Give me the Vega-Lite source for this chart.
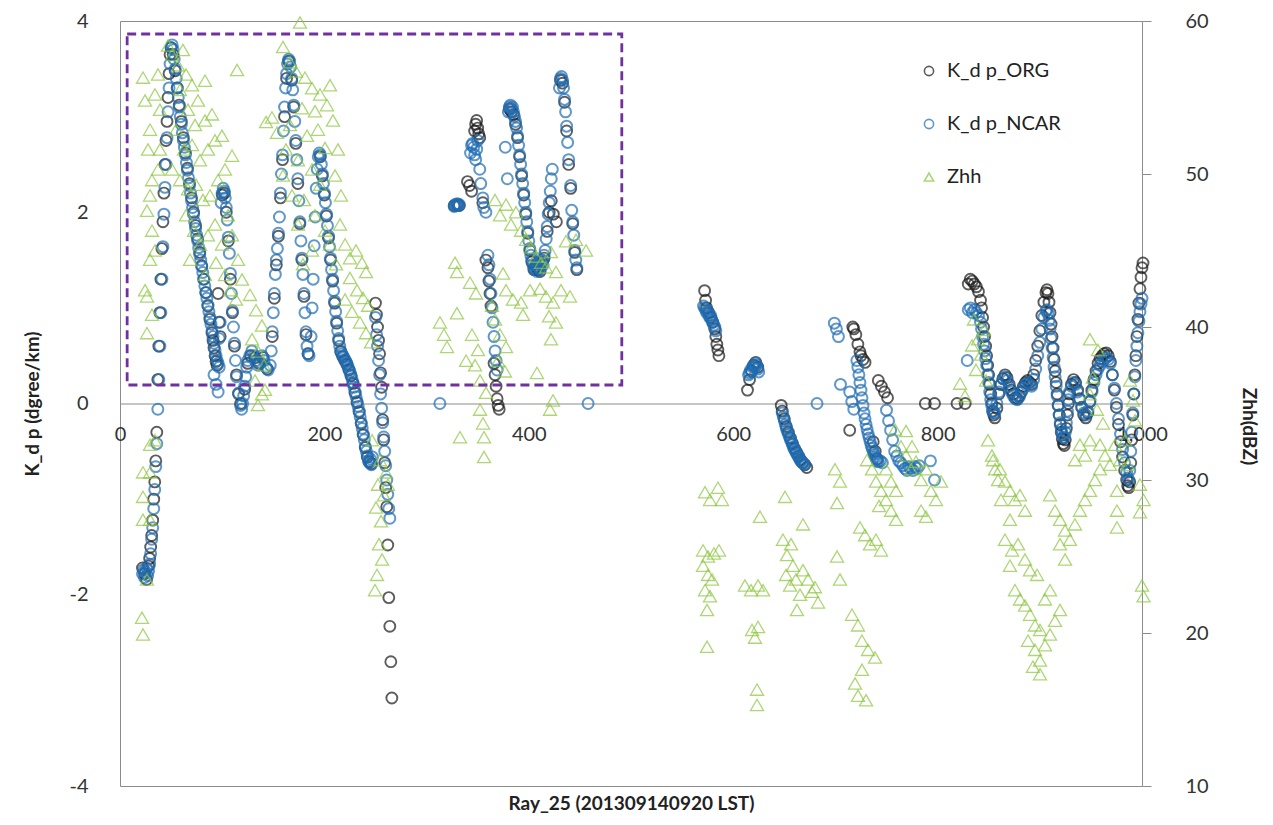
{
  "$schema": "https://vega.github.io/schema/vega-lite/v6.json",
  "width": 1022,
  "height": 765,
  "autosize": "none",
  "padding": {"left": 120, "top": 21, "right": 131, "bottom": 39},
  "background": "white",
  "config": {
    "font": "Lato",
    "view": {"stroke": "#8c8c8c", "strokeWidth": 1}
  },
  "datasets": {
    "org": [
      {"s":"o","x":22,"k":-1.72},{"s":"o","x":24,"k":-1.78},{"s":"o","x":26,"k":-1.84},{"s":"o","x":28,"k":-1.7},{"s":"o","x":29,"k":-1.62},{"s":"o","x":30,"k":-1.5},{"s":"o","x":31,"k":-1.38},{"s":"o","x":32,"k":-1.22},{"s":"o","x":33,"k":-1.0},{"s":"o","x":34,"k":-0.82},{"s":"o","x":35,"k":-0.6},{"s":"o","x":36,"k":-0.3},{"s":"o","x":37,"k":0.25},{"s":"o","x":38,"k":0.6},{"s":"o","x":39,"k":0.95},{"s":"o","x":40,"k":1.3},{"s":"o","x":41,"k":1.62},{"s":"o","x":42,"k":1.9},{"s":"o","x":43,"k":2.2},{"s":"o","x":44,"k":2.5},{"s":"o","x":45,"k":2.75},{"s":"o","x":46,"k":2.95},{"s":"o","x":47,"k":3.2},{"s":"o","x":48,"k":3.45},{"s":"o","x":49,"k":3.65},{"s":"o","x":50,"k":3.72},
      {"s":"o","x":52,"k":3.65},{"s":"o","x":54,"k":3.48},{"s":"o","x":56,"k":3.3},{"s":"o","x":58,"k":3.12},{"s":"o","x":60,"k":2.95},{"s":"o","x":62,"k":2.78},{"s":"o","x":64,"k":2.62},{"s":"o","x":66,"k":2.46},{"s":"o","x":68,"k":2.3},{"s":"o","x":70,"k":2.15},{"s":"o","x":72,"k":2.0},{"s":"o","x":74,"k":1.86},{"s":"o","x":76,"k":1.72},{"s":"o","x":78,"k":1.58},{"s":"o","x":80,"k":1.44},{"s":"o","x":82,"k":1.3},{"s":"o","x":84,"k":1.16},{"s":"o","x":86,"k":1.02},{"s":"o","x":88,"k":0.88},{"s":"o","x":90,"k":0.74},{"s":"o","x":91,"k":0.66},{"s":"o","x":92,"k":0.58},{"s":"o","x":93,"k":0.5},{"s":"o","x":94,"k":0.44},{"s":"o","x":95,"k":0.4},{"s":"o","x":96,"k":1.15},{"s":"o","x":97,"k":0.85},{"s":"o","x":98,"k":0.7},
      {"s":"o","x":100,"k":2.18},{"s":"o","x":102,"k":2.2},{"s":"o","x":104,"k":2.0},{"s":"o","x":106,"k":1.7},{"s":"o","x":108,"k":1.3},{"s":"o","x":110,"k":0.95},{"s":"o","x":112,"k":0.6},{"s":"o","x":114,"k":0.3},{"s":"o","x":116,"k":0.1},{"s":"o","x":118,"k":0.0},
      {"s":"o","x":122,"k":0.15},{"s":"o","x":125,"k":0.42},{"s":"o","x":128,"k":0.5},{"s":"o","x":132,"k":0.48},{"s":"o","x":136,"k":0.42},{"s":"o","x":140,"k":0.48},{"s":"o","x":144,"k":0.36},
      {"s":"o","x":149,"k":0.7},{"s":"o","x":151,"k":1.1},{"s":"o","x":153,"k":1.45},{"s":"o","x":155,"k":1.75},{"s":"o","x":157,"k":2.15},{"s":"o","x":159,"k":2.55},{"s":"o","x":161,"k":3.0},{"s":"o","x":163,"k":3.4},{"s":"o","x":165,"k":3.58},
      {"s":"o","x":168,"k":3.38},{"s":"o","x":170,"k":3.1},{"s":"o","x":172,"k":2.72},{"s":"o","x":174,"k":2.3},{"s":"o","x":176,"k":1.88},{"s":"o","x":178,"k":1.5},{"s":"o","x":180,"k":1.12},{"s":"o","x":182,"k":0.72},{"s":"o","x":184,"k":0.52},
      {"s":"o","x":196,"k":2.58},{"s":"o","x":198,"k":2.38},{"s":"o","x":200,"k":2.18},{"s":"o","x":202,"k":1.96},{"s":"o","x":204,"k":1.73},{"s":"o","x":206,"k":1.5},{"s":"o","x":208,"k":1.28},{"s":"o","x":210,"k":1.05},{"s":"o","x":212,"k":0.84},{"s":"o","x":214,"k":0.66},{"s":"o","x":216,"k":0.54},{"s":"o","x":218,"k":0.49},{"s":"o","x":220,"k":0.45},{"s":"o","x":222,"k":0.41},{"s":"o","x":224,"k":0.35},{"s":"o","x":226,"k":0.29},{"s":"o","x":228,"k":0.21},{"s":"o","x":230,"k":0.11},{"s":"o","x":232,"k":0.01},{"s":"o","x":234,"k":-0.09},{"s":"o","x":236,"k":-0.21},{"s":"o","x":238,"k":-0.33},{"s":"o","x":240,"k":-0.46},{"s":"o","x":242,"k":-0.56},{"s":"o","x":244,"k":-0.61},{"s":"o","x":246,"k":-0.63},
      {"s":"o","x":250,"k":1.05},{"s":"o","x":251,"k":0.93},{"s":"o","x":252,"k":0.8},{"s":"o","x":253,"k":0.66},{"s":"o","x":254,"k":0.52},{"s":"o","x":255,"k":0.32},{"s":"o","x":256,"k":0.17},{"s":"o","x":257,"k":-0.17},{"s":"o","x":258,"k":-0.38},{"s":"o","x":259,"k":-0.62},{"s":"o","x":260,"k":-0.88},{"s":"o","x":261,"k":-1.08},{"s":"o","x":262,"k":-1.48},{"s":"o","x":263,"k":-2.03},{"s":"o","x":264,"k":-2.33},{"s":"o","x":265,"k":-2.7},{"s":"o","x":266,"k":-3.08},
      {"s":"o","x":327,"k":2.07},{"s":"o","x":330,"k":2.08},{"s":"o","x":332,"k":2.07},
      {"s":"o","x":340,"k":2.32},{"s":"o","x":342,"k":2.28},{"s":"o","x":344,"k":2.22},{"s":"o","x":347,"k":2.85},{"s":"o","x":348,"k":2.92},{"s":"o","x":349,"k":2.96},{"s":"o","x":350,"k":2.88},{"s":"o","x":351,"k":2.82},{"s":"o","x":352,"k":2.78},{"s":"o","x":355,"k":2.1},{"s":"o","x":358,"k":1.5},{"s":"o","x":360,"k":1.42},{"s":"o","x":361,"k":1.28},{"s":"o","x":362,"k":1.15},{"s":"o","x":363,"k":1.02},{"s":"o","x":366,"k":0.42},{"s":"o","x":367,"k":0.3},{"s":"o","x":368,"k":0.18},{"s":"o","x":369,"k":0.05},{"s":"o","x":370,"k":-0.02},{"s":"o","x":371,"k":-0.06},
      {"s":"o","x":381,"k":3.08},{"s":"o","x":383,"k":3.05},{"s":"o","x":385,"k":3.02},{"s":"o","x":387,"k":2.92},{"s":"o","x":389,"k":2.78},{"s":"o","x":391,"k":2.58},{"s":"o","x":393,"k":2.38},{"s":"o","x":395,"k":2.18},{"s":"o","x":397,"k":1.98},{"s":"o","x":399,"k":1.78},{"s":"o","x":401,"k":1.6},{"s":"o","x":403,"k":1.48},{"s":"o","x":405,"k":1.4},{"s":"o","x":407,"k":1.43},{"s":"o","x":409,"k":1.4},{"s":"o","x":411,"k":1.38},{"s":"o","x":413,"k":1.48},{"s":"o","x":415,"k":1.52},{"s":"o","x":418,"k":1.8},{"s":"o","x":420,"k":2.0},{"s":"o","x":422,"k":2.12},{"s":"o","x":424,"k":1.98},{"s":"o","x":427,"k":1.9},{"s":"o","x":431,"k":3.38},{"s":"o","x":433,"k":3.35},{"s":"o","x":435,"k":3.15},{"s":"o","x":437,"k":2.85},{"s":"o","x":439,"k":2.5},{"s":"o","x":441,"k":2.25},{"s":"o","x":443,"k":1.88},{"s":"o","x":445,"k":1.58},{"s":"o","x":447,"k":1.4},
      {"s":"o","x":572,"k":1.18},{"s":"o","x":573,"k":1.08},{"s":"o","x":574,"k":1.0},{"s":"o","x":576,"k":0.95},{"s":"o","x":578,"k":0.9},{"s":"o","x":580,"k":0.85},{"s":"o","x":582,"k":0.78},{"s":"o","x":583,"k":0.7},{"s":"o","x":584,"k":0.62},{"s":"o","x":585,"k":0.56},{"s":"o","x":586,"k":0.5},
      {"s":"o","x":614,"k":0.14},{"s":"o","x":616,"k":0.25},{"s":"o","x":618,"k":0.34},{"s":"o","x":620,"k":0.4},{"s":"o","x":622,"k":0.43},{"s":"o","x":624,"k":0.38},
      {"s":"o","x":647,"k":-0.02},{"s":"o","x":648,"k":-0.08},{"s":"o","x":650,"k":-0.16},{"s":"o","x":652,"k":-0.24},{"s":"o","x":654,"k":-0.3},{"s":"o","x":656,"k":-0.36},{"s":"o","x":658,"k":-0.42},{"s":"o","x":660,"k":-0.47},{"s":"o","x":662,"k":-0.51},{"s":"o","x":664,"k":-0.55},{"s":"o","x":666,"k":-0.59},{"s":"o","x":668,"k":-0.62},{"s":"o","x":670,"k":-0.64},{"s":"o","x":672,"k":-0.67},
      {"s":"o","x":714,"k":-0.28},{"s":"o","x":717,"k":0.8},{"s":"o","x":718,"k":0.78},{"s":"o","x":720,"k":0.72},{"s":"o","x":722,"k":0.62},{"s":"o","x":724,"k":0.54},{"s":"o","x":725,"k":0.5},{"s":"o","x":727,"k":0.46},{"s":"o","x":729,"k":0.43},{"s":"o","x":737,"k":-0.4},{"s":"o","x":739,"k":-0.5},{"s":"o","x":741,"k":-0.58},{"s":"o","x":742,"k":0.24},{"s":"o","x":745,"k":0.18},{"s":"o","x":748,"k":0.12},{"s":"o","x":751,"k":0.06},{"s":"o","x":788,"k":0.0},{"s":"o","x":797,"k":0.0},{"s":"o","x":819,"k":0.0},{"s":"o","x":827,"k":0.0},
      {"s":"o","x":830,"k":1.25},{"s":"o","x":832,"k":1.3},{"s":"o","x":834,"k":1.28},{"s":"o","x":836,"k":1.25},{"s":"o","x":838,"k":1.22},{"s":"o","x":840,"k":1.17},{"s":"o","x":842,"k":1.08},{"s":"o","x":843,"k":1.0},{"s":"o","x":844,"k":0.9},{"s":"o","x":845,"k":0.8},{"s":"o","x":846,"k":0.7},{"s":"o","x":847,"k":0.6},{"s":"o","x":848,"k":0.5},{"s":"o","x":849,"k":0.4},{"s":"o","x":850,"k":0.3},{"s":"o","x":851,"k":0.2},{"s":"o","x":852,"k":0.1},{"s":"o","x":853,"k":0.0},{"s":"o","x":854,"k":-0.08},{"s":"o","x":855,"k":-0.12},{"s":"o","x":856,"k":-0.15},{"s":"o","x":858,"k":-0.05},{"s":"o","x":860,"k":0.1},{"s":"o","x":862,"k":0.2},{"s":"o","x":864,"k":0.26},{"s":"o","x":866,"k":0.3},{"s":"o","x":868,"k":0.27},{"s":"o","x":870,"k":0.2},{"s":"o","x":872,"k":0.14},{"s":"o","x":874,"k":0.1},{"s":"o","x":876,"k":0.06},{"s":"o","x":878,"k":0.05},{"s":"o","x":880,"k":0.08},{"s":"o","x":882,"k":0.12},{"s":"o","x":884,"k":0.18},{"s":"o","x":886,"k":0.22},{"s":"o","x":888,"k":0.24},{"s":"o","x":890,"k":0.22},{"s":"o","x":892,"k":0.2},{"s":"o","x":894,"k":0.3},{"s":"o","x":896,"k":0.45},{"s":"o","x":898,"k":0.6},{"s":"o","x":900,"k":0.76},{"s":"o","x":902,"k":0.92},{"s":"o","x":904,"k":1.06},{"s":"o","x":906,"k":1.16},{"s":"o","x":907,"k":1.19},{"s":"o","x":908,"k":1.15},{"s":"o","x":909,"k":1.06},{"s":"o","x":910,"k":0.95},{"s":"o","x":911,"k":0.83},{"s":"o","x":912,"k":0.7},{"s":"o","x":913,"k":0.58},{"s":"o","x":914,"k":0.46},{"s":"o","x":915,"k":0.34},{"s":"o","x":916,"k":0.22},{"s":"o","x":917,"k":0.1},{"s":"o","x":918,"k":-0.02},{"s":"o","x":919,"k":-0.12},{"s":"o","x":920,"k":-0.22},{"s":"o","x":921,"k":-0.3},{"s":"o","x":922,"k":-0.37},{"s":"o","x":923,"k":-0.42},{"s":"o","x":924,"k":-0.44},{"s":"o","x":925,"k":-0.38},{"s":"o","x":926,"k":-0.26},{"s":"o","x":927,"k":-0.12},{"s":"o","x":928,"k":0.0},{"s":"o","x":929,"k":0.1},{"s":"o","x":931,"k":0.2},{"s":"o","x":933,"k":0.25},{"s":"o","x":935,"k":0.22},{"s":"o","x":937,"k":0.14},{"s":"o","x":939,"k":0.05},{"s":"o","x":941,"k":-0.04},{"s":"o","x":943,"k":-0.12},{"s":"o","x":945,"k":-0.15},{"s":"o","x":947,"k":-0.1},{"s":"o","x":949,"k":0.02},{"s":"o","x":951,"k":0.14},{"s":"o","x":953,"k":0.25},{"s":"o","x":955,"k":0.34},{"s":"o","x":957,"k":0.42},{"s":"o","x":959,"k":0.47},{"s":"o","x":961,"k":0.5},{"s":"o","x":963,"k":0.52},{"s":"o","x":965,"k":0.53},{"s":"o","x":967,"k":0.5},{"s":"o","x":969,"k":0.44},{"s":"o","x":971,"k":0.3},{"s":"o","x":973,"k":0.14},{"s":"o","x":975,"k":-0.04},{"s":"o","x":977,"k":-0.22},{"s":"o","x":979,"k":-0.4},{"s":"o","x":981,"k":-0.56},{"s":"o","x":983,"k":-0.7},{"s":"o","x":985,"k":-0.8},{"s":"o","x":986,"k":-0.86},{"s":"o","x":987,"k":-0.88},{"s":"o","x":988,"k":-0.82},{"s":"o","x":989,"k":-0.62},{"s":"o","x":990,"k":-0.38},{"s":"o","x":991,"k":-0.12},{"s":"o","x":992,"k":0.1},{"s":"o","x":993,"k":0.3},{"s":"o","x":994,"k":0.5},{"s":"o","x":995,"k":0.7},{"s":"o","x":996,"k":0.88},{"s":"o","x":997,"k":1.05},{"s":"o","x":998,"k":1.2},{"s":"o","x":999,"k":1.32},{"s":"o","x":1000,"k":1.42},{"s":"o","x":1001,"k":1.47}
    ],
    "ncar": [
      {"s":"n","x":22,"k":-1.78},{"s":"n","x":23,"k":-1.74},{"s":"n","x":24,"k":-1.82},{"s":"n","x":25,"k":-1.76},{"s":"n","x":26,"k":-1.72},{"s":"n","x":27,"k":-1.8},{"s":"n","x":28,"k":-1.75},{"s":"n","x":29,"k":-1.68},{"s":"n","x":30,"k":-1.57},{"s":"n","x":31,"k":-1.42},{"s":"n","x":32,"k":-1.3},{"s":"n","x":33,"k":-1.1},{"s":"n","x":34,"k":-0.9},{"s":"n","x":35,"k":-0.66},{"s":"n","x":36,"k":-0.42},{"s":"n","x":37,"k":-0.06},{"s":"n","x":38,"k":0.25},{"s":"n","x":39,"k":0.6},{"s":"n","x":40,"k":0.95},{"s":"n","x":41,"k":1.3},{"s":"n","x":42,"k":1.64},{"s":"n","x":43,"k":1.98},{"s":"n","x":44,"k":2.26},{"s":"n","x":45,"k":2.5},{"s":"n","x":46,"k":2.78},{"s":"n","x":47,"k":3.05},{"s":"n","x":48,"k":3.3},{"s":"n","x":49,"k":3.55},{"s":"n","x":50,"k":3.72},{"s":"n","x":51,"k":3.75},{"s":"n","x":52,"k":3.7},
      {"s":"n","x":53,"k":3.6},{"s":"n","x":54,"k":3.5},{"s":"n","x":55,"k":3.4},{"s":"n","x":56,"k":3.3},{"s":"n","x":57,"k":3.2},{"s":"n","x":58,"k":3.1},{"s":"n","x":59,"k":3.0},{"s":"n","x":60,"k":2.92},{"s":"n","x":61,"k":2.83},{"s":"n","x":62,"k":2.75},{"s":"n","x":63,"k":2.68},{"s":"n","x":64,"k":2.6},{"s":"n","x":65,"k":2.52},{"s":"n","x":66,"k":2.44},{"s":"n","x":67,"k":2.36},{"s":"n","x":68,"k":2.28},{"s":"n","x":69,"k":2.2},{"s":"n","x":70,"k":2.12},{"s":"n","x":71,"k":2.05},{"s":"n","x":72,"k":1.98},{"s":"n","x":73,"k":1.9},{"s":"n","x":74,"k":1.83},{"s":"n","x":75,"k":1.76},{"s":"n","x":76,"k":1.7},{"s":"n","x":77,"k":1.63},{"s":"n","x":78,"k":1.56},{"s":"n","x":79,"k":1.5},{"s":"n","x":80,"k":1.43},{"s":"n","x":81,"k":1.37},{"s":"n","x":82,"k":1.3},{"s":"n","x":83,"k":1.23},{"s":"n","x":84,"k":1.16},{"s":"n","x":85,"k":1.1},{"s":"n","x":86,"k":1.03},{"s":"n","x":87,"k":0.96},{"s":"n","x":88,"k":0.9},{"s":"n","x":89,"k":0.83},{"s":"n","x":90,"k":0.76},{"s":"n","x":91,"k":0.7},{"s":"n","x":92,"k":0.63},{"s":"n","x":93,"k":0.56},{"s":"n","x":94,"k":0.5},{"s":"n","x":95,"k":0.45},{"s":"n","x":96,"k":0.42},{"s":"n","x":97,"k":0.38},
      {"s":"n","x":92,"k":0.3},{"s":"n","x":94,"k":0.2},{"s":"n","x":96,"k":0.12},{"s":"n","x":97,"k":0.68},{"s":"n","x":98,"k":0.85},
      {"s":"n","x":99,"k":2.1},{"s":"n","x":100,"k":2.2},{"s":"n","x":101,"k":2.25},{"s":"n","x":102,"k":2.22},{"s":"n","x":103,"k":2.15},{"s":"n","x":104,"k":2.05},{"s":"n","x":105,"k":1.92},{"s":"n","x":106,"k":1.74},{"s":"n","x":107,"k":1.57},{"s":"n","x":108,"k":1.36},{"s":"n","x":109,"k":1.15},{"s":"n","x":110,"k":0.97},{"s":"n","x":111,"k":0.8},{"s":"n","x":112,"k":0.63},{"s":"n","x":113,"k":0.45},{"s":"n","x":114,"k":0.28},{"s":"n","x":116,"k":0.11},{"s":"n","x":118,"k":-0.02},{"s":"n","x":119,"k":-0.06},{"s":"n","x":120,"k":0.0},
      {"s":"n","x":121,"k":0.08},{"s":"n","x":122,"k":0.18},{"s":"n","x":123,"k":0.28},{"s":"n","x":124,"k":0.38},{"s":"n","x":125,"k":0.45},{"s":"n","x":127,"k":0.5},{"s":"n","x":129,"k":0.55},{"s":"n","x":131,"k":0.5},{"s":"n","x":133,"k":0.45},{"s":"n","x":135,"k":0.4},{"s":"n","x":137,"k":0.43},{"s":"n","x":139,"k":0.5},{"s":"n","x":141,"k":0.45},{"s":"n","x":143,"k":0.38},{"s":"n","x":145,"k":0.35},{"s":"n","x":147,"k":0.4},
      {"s":"n","x":148,"k":0.55},{"s":"n","x":149,"k":0.75},{"s":"n","x":150,"k":0.95},{"s":"n","x":151,"k":1.15},{"s":"n","x":152,"k":1.35},{"s":"n","x":153,"k":1.5},{"s":"n","x":154,"k":1.62},{"s":"n","x":155,"k":1.78},{"s":"n","x":156,"k":1.95},{"s":"n","x":157,"k":2.2},{"s":"n","x":158,"k":2.4},{"s":"n","x":159,"k":2.6},{"s":"n","x":160,"k":2.85},{"s":"n","x":161,"k":3.1},{"s":"n","x":162,"k":3.3},{"s":"n","x":163,"k":3.45},{"s":"n","x":164,"k":3.55},{"s":"n","x":165,"k":3.6},{"s":"n","x":166,"k":3.58},{"s":"n","x":167,"k":3.52},
      {"s":"n","x":168,"k":3.4},{"s":"n","x":169,"k":3.28},{"s":"n","x":170,"k":3.12},{"s":"n","x":171,"k":2.95},{"s":"n","x":172,"k":2.75},{"s":"n","x":173,"k":2.55},{"s":"n","x":174,"k":2.35},{"s":"n","x":175,"k":2.12},{"s":"n","x":176,"k":1.9},{"s":"n","x":177,"k":1.7},{"s":"n","x":178,"k":1.52},{"s":"n","x":179,"k":1.35},{"s":"n","x":180,"k":1.15},{"s":"n","x":181,"k":0.95},{"s":"n","x":182,"k":0.75},{"s":"n","x":183,"k":0.6},{"s":"n","x":184,"k":0.52},{"s":"n","x":185,"k":0.5},
      {"s":"n","x":187,"k":0.7},{"s":"n","x":188,"k":1.0},{"s":"n","x":189,"k":1.3},{"s":"n","x":190,"k":1.65},{"s":"n","x":191,"k":1.95},{"s":"n","x":192,"k":2.25},{"s":"n","x":193,"k":2.45},{"s":"n","x":194,"k":2.58},{"s":"n","x":195,"k":2.62},
      {"s":"n","x":196,"k":2.6},{"s":"n","x":197,"k":2.5},{"s":"n","x":198,"k":2.4},{"s":"n","x":199,"k":2.3},{"s":"n","x":200,"k":2.2},{"s":"n","x":201,"k":2.1},{"s":"n","x":202,"k":1.98},{"s":"n","x":203,"k":1.86},{"s":"n","x":204,"k":1.75},{"s":"n","x":205,"k":1.64},{"s":"n","x":206,"k":1.52},{"s":"n","x":207,"k":1.4},{"s":"n","x":208,"k":1.3},{"s":"n","x":209,"k":1.18},{"s":"n","x":210,"k":1.07},{"s":"n","x":211,"k":0.96},{"s":"n","x":212,"k":0.86},{"s":"n","x":213,"k":0.76},{"s":"n","x":214,"k":0.68},{"s":"n","x":215,"k":0.6},{"s":"n","x":216,"k":0.55},{"s":"n","x":217,"k":0.52},{"s":"n","x":218,"k":0.5},{"s":"n","x":219,"k":0.48},{"s":"n","x":220,"k":0.46},{"s":"n","x":221,"k":0.44},{"s":"n","x":222,"k":0.42},{"s":"n","x":223,"k":0.39},{"s":"n","x":224,"k":0.36},{"s":"n","x":225,"k":0.33},{"s":"n","x":226,"k":0.3},{"s":"n","x":227,"k":0.26},{"s":"n","x":228,"k":0.22},{"s":"n","x":229,"k":0.17},{"s":"n","x":230,"k":0.12},{"s":"n","x":231,"k":0.07},{"s":"n","x":232,"k":0.02},{"s":"n","x":233,"k":-0.03},{"s":"n","x":234,"k":-0.08},{"s":"n","x":235,"k":-0.14},{"s":"n","x":236,"k":-0.2},{"s":"n","x":237,"k":-0.26},{"s":"n","x":238,"k":-0.32},{"s":"n","x":239,"k":-0.38},{"s":"n","x":240,"k":-0.45},{"s":"n","x":241,"k":-0.5},{"s":"n","x":242,"k":-0.55},{"s":"n","x":243,"k":-0.6},{"s":"n","x":244,"k":-0.62},{"s":"n","x":245,"k":-0.58},{"s":"n","x":246,"k":-0.64},{"s":"n","x":247,"k":-0.56},
      {"s":"n","x":250,"k":0.9},{"s":"n","x":251,"k":0.72},{"s":"n","x":252,"k":0.6},{"s":"n","x":253,"k":0.45},{"s":"n","x":254,"k":0.3},{"s":"n","x":255,"k":0.1},{"s":"n","x":256,"k":-0.05},{"s":"n","x":257,"k":-0.2},{"s":"n","x":258,"k":-0.35},{"s":"n","x":259,"k":-0.5},{"s":"n","x":260,"k":-0.65},{"s":"n","x":261,"k":-0.8},{"s":"n","x":262,"k":-0.95},{"s":"n","x":263,"k":-1.1},{"s":"n","x":264,"k":-1.2},
      {"s":"n","x":313,"k":0.0},{"s":"n","x":327,"k":2.06},{"s":"n","x":328,"k":2.08},{"s":"n","x":329,"k":2.07},{"s":"n","x":330,"k":2.09},{"s":"n","x":331,"k":2.07},{"s":"n","x":332,"k":2.08},
      {"s":"n","x":343,"k":2.62},{"s":"n","x":344,"k":2.7},{"s":"n","x":345,"k":2.72},{"s":"n","x":346,"k":2.68},{"s":"n","x":347,"k":2.6},{"s":"n","x":348,"k":2.55},{"s":"n","x":349,"k":2.66},{"s":"n","x":350,"k":2.75},{"s":"n","x":352,"k":2.45},{"s":"n","x":353,"k":2.3},{"s":"n","x":355,"k":2.15},{"s":"n","x":356,"k":2.05},{"s":"n","x":358,"k":2.0},{"s":"n","x":360,"k":1.55},{"s":"n","x":361,"k":1.45},{"s":"n","x":362,"k":1.3},{"s":"n","x":363,"k":1.15},{"s":"n","x":364,"k":1.0},{"s":"n","x":365,"k":0.85},{"s":"n","x":366,"k":0.7},{"s":"n","x":367,"k":0.55},{"s":"n","x":368,"k":0.45},{"s":"n","x":369,"k":0.35},
      {"s":"n","x":377,"k":2.68},{"s":"n","x":379,"k":2.35},{"s":"n","x":380,"k":3.05},{"s":"n","x":381,"k":3.1},{"s":"n","x":382,"k":3.12},{"s":"n","x":383,"k":3.08},{"s":"n","x":384,"k":3.1},{"s":"n","x":385,"k":3.05},{"s":"n","x":386,"k":3.0},{"s":"n","x":387,"k":2.95},{"s":"n","x":388,"k":2.88},{"s":"n","x":389,"k":2.8},{"s":"n","x":390,"k":2.7},{"s":"n","x":391,"k":2.6},{"s":"n","x":392,"k":2.5},{"s":"n","x":393,"k":2.4},{"s":"n","x":394,"k":2.3},{"s":"n","x":395,"k":2.2},{"s":"n","x":396,"k":2.1},{"s":"n","x":397,"k":2.0},{"s":"n","x":398,"k":1.9},{"s":"n","x":399,"k":1.8},{"s":"n","x":400,"k":1.7},{"s":"n","x":401,"k":1.62},{"s":"n","x":402,"k":1.55},{"s":"n","x":403,"k":1.5},{"s":"n","x":404,"k":1.45},{"s":"n","x":405,"k":1.42},{"s":"n","x":406,"k":1.4},{"s":"n","x":407,"k":1.45},{"s":"n","x":408,"k":1.38},{"s":"n","x":409,"k":1.42},{"s":"n","x":410,"k":1.48},{"s":"n","x":411,"k":1.4},{"s":"n","x":412,"k":1.45},{"s":"n","x":413,"k":1.5},{"s":"n","x":414,"k":1.45},{"s":"n","x":415,"k":1.55},{"s":"n","x":416,"k":1.6},{"s":"n","x":417,"k":1.72},{"s":"n","x":418,"k":1.85},{"s":"n","x":419,"k":1.98},{"s":"n","x":420,"k":2.1},{"s":"n","x":421,"k":2.22},{"s":"n","x":422,"k":2.35},{"s":"n","x":423,"k":2.45},{"s":"n","x":430,"k":3.3},{"s":"n","x":431,"k":3.4},{"s":"n","x":432,"k":3.42},{"s":"n","x":433,"k":3.38},{"s":"n","x":434,"k":3.3},{"s":"n","x":435,"k":3.18},{"s":"n","x":436,"k":3.05},{"s":"n","x":437,"k":2.9},{"s":"n","x":438,"k":2.73},{"s":"n","x":439,"k":2.55},{"s":"n","x":441,"k":2.28},{"s":"n","x":442,"k":2.02},{"s":"n","x":443,"k":1.9},{"s":"n","x":444,"k":1.76},{"s":"n","x":445,"k":1.6},{"s":"n","x":446,"k":1.5},{"s":"n","x":447,"k":1.42},{"s":"n","x":458,"k":0.0},
      {"s":"n","x":571,"k":1.02},{"s":"n","x":572,"k":1.0},{"s":"n","x":573,"k":0.98},{"s":"n","x":574,"k":0.95},{"s":"n","x":575,"k":0.97},{"s":"n","x":576,"k":0.93},{"s":"n","x":577,"k":0.9},{"s":"n","x":578,"k":0.92},{"s":"n","x":579,"k":0.88},{"s":"n","x":580,"k":0.85},{"s":"n","x":581,"k":0.82},{"s":"n","x":582,"k":0.8},{"s":"n","x":583,"k":0.76},
      {"s":"n","x":615,"k":0.3},{"s":"n","x":616,"k":0.32},{"s":"n","x":617,"k":0.35},{"s":"n","x":618,"k":0.33},{"s":"n","x":619,"k":0.38},{"s":"n","x":620,"k":0.4},{"s":"n","x":621,"k":0.38},{"s":"n","x":622,"k":0.42},{"s":"n","x":623,"k":0.4},{"s":"n","x":624,"k":0.36},{"s":"n","x":625,"k":0.33},
      {"s":"n","x":648,"k":-0.1},{"s":"n","x":649,"k":-0.14},{"s":"n","x":650,"k":-0.18},{"s":"n","x":651,"k":-0.22},{"s":"n","x":652,"k":-0.26},{"s":"n","x":653,"k":-0.29},{"s":"n","x":654,"k":-0.32},{"s":"n","x":655,"k":-0.35},{"s":"n","x":656,"k":-0.38},{"s":"n","x":657,"k":-0.4},{"s":"n","x":658,"k":-0.43},{"s":"n","x":659,"k":-0.46},{"s":"n","x":660,"k":-0.48},{"s":"n","x":661,"k":-0.5},{"s":"n","x":662,"k":-0.52},{"s":"n","x":663,"k":-0.54},{"s":"n","x":664,"k":-0.56},{"s":"n","x":665,"k":-0.58},{"s":"n","x":666,"k":-0.6},{"s":"n","x":667,"k":-0.61},{"s":"n","x":668,"k":-0.62},{"s":"n","x":669,"k":-0.63},{"s":"n","x":670,"k":-0.64},{"s":"n","x":682,"k":0.0},
      {"s":"n","x":699,"k":0.84},{"s":"n","x":701,"k":0.78},{"s":"n","x":703,"k":0.7},{"s":"n","x":705,"k":0.2},{"s":"n","x":714,"k":0.12},{"s":"n","x":716,"k":0.02},{"s":"n","x":718,"k":-0.06},{"s":"n","x":721,"k":0.45},{"s":"n","x":722,"k":0.38},{"s":"n","x":723,"k":0.3},{"s":"n","x":724,"k":0.22},{"s":"n","x":725,"k":0.14},{"s":"n","x":726,"k":0.06},{"s":"n","x":727,"k":-0.02},{"s":"n","x":728,"k":-0.1},{"s":"n","x":729,"k":-0.16},{"s":"n","x":730,"k":-0.22},{"s":"n","x":731,"k":-0.27},{"s":"n","x":732,"k":-0.32},{"s":"n","x":733,"k":-0.36},{"s":"n","x":734,"k":-0.4},{"s":"n","x":735,"k":-0.44},{"s":"n","x":736,"k":-0.47},{"s":"n","x":737,"k":-0.5},{"s":"n","x":738,"k":-0.53},{"s":"n","x":739,"k":-0.56},{"s":"n","x":740,"k":-0.58},{"s":"n","x":741,"k":-0.6},{"s":"n","x":742,"k":-0.61},{"s":"n","x":744,"k":-0.6},{"s":"n","x":746,"k":-0.62},{"s":"n","x":750,"k":-0.07},{"s":"n","x":752,"k":-0.18},{"s":"n","x":754,"k":-0.28},{"s":"n","x":756,"k":-0.38},{"s":"n","x":758,"k":-0.5},{"s":"n","x":760,"k":-0.55},{"s":"n","x":762,"k":-0.6},{"s":"n","x":764,"k":-0.62},{"s":"n","x":766,"k":-0.65},{"s":"n","x":768,"k":-0.68},{"s":"n","x":770,"k":-0.7},{"s":"n","x":772,"k":-0.66},{"s":"n","x":774,"k":-0.68},{"s":"n","x":776,"k":-0.7},{"s":"n","x":778,"k":-0.66},{"s":"n","x":780,"k":-0.68},{"s":"n","x":782,"k":-0.65},{"s":"n","x":793,"k":-0.6},{"s":"n","x":797,"k":-0.8},{"s":"n","x":829,"k":0.45},
      {"s":"n","x":830,"k":0.98},{"s":"n","x":832,"k":1.0},{"s":"n","x":834,"k":0.95},{"s":"n","x":836,"k":0.98},{"s":"n","x":838,"k":0.95},{"s":"n","x":840,"k":0.92},{"s":"n","x":842,"k":0.85},{"s":"n","x":843,"k":0.78},{"s":"n","x":844,"k":0.7},{"s":"n","x":845,"k":0.62},{"s":"n","x":846,"k":0.55},{"s":"n","x":847,"k":0.47},{"s":"n","x":848,"k":0.4},{"s":"n","x":849,"k":0.3},{"s":"n","x":850,"k":0.22},{"s":"n","x":851,"k":0.12},{"s":"n","x":852,"k":0.04},{"s":"n","x":853,"k":-0.02},{"s":"n","x":854,"k":-0.08},{"s":"n","x":855,"k":-0.1},{"s":"n","x":856,"k":-0.1},{"s":"n","x":858,"k":0.0},{"s":"n","x":860,"k":0.12},{"s":"n","x":862,"k":0.2},{"s":"n","x":864,"k":0.26},{"s":"n","x":866,"k":0.28},{"s":"n","x":868,"k":0.24},{"s":"n","x":870,"k":0.18},{"s":"n","x":872,"k":0.12},{"s":"n","x":874,"k":0.08},{"s":"n","x":876,"k":0.05},{"s":"n","x":878,"k":0.04},{"s":"n","x":880,"k":0.07},{"s":"n","x":882,"k":0.12},{"s":"n","x":884,"k":0.16},{"s":"n","x":886,"k":0.2},{"s":"n","x":888,"k":0.22},{"s":"n","x":890,"k":0.2},{"s":"n","x":892,"k":0.18},{"s":"n","x":894,"k":0.25},{"s":"n","x":896,"k":0.36},{"s":"n","x":898,"k":0.5},{"s":"n","x":900,"k":0.64},{"s":"n","x":902,"k":0.78},{"s":"n","x":904,"k":0.9},{"s":"n","x":906,"k":0.97},{"s":"n","x":907,"k":0.98},{"s":"n","x":908,"k":0.94},{"s":"n","x":909,"k":0.87},{"s":"n","x":910,"k":0.78},{"s":"n","x":911,"k":0.68},{"s":"n","x":912,"k":0.58},{"s":"n","x":913,"k":0.48},{"s":"n","x":914,"k":0.38},{"s":"n","x":915,"k":0.28},{"s":"n","x":916,"k":0.18},{"s":"n","x":917,"k":0.08},{"s":"n","x":918,"k":-0.02},{"s":"n","x":919,"k":-0.12},{"s":"n","x":920,"k":-0.2},{"s":"n","x":921,"k":-0.27},{"s":"n","x":922,"k":-0.32},{"s":"n","x":923,"k":-0.35},{"s":"n","x":924,"k":-0.36},{"s":"n","x":925,"k":-0.3},{"s":"n","x":926,"k":-0.2},{"s":"n","x":927,"k":-0.08},{"s":"n","x":928,"k":0.04},{"s":"n","x":929,"k":0.12},{"s":"n","x":931,"k":0.18},{"s":"n","x":933,"k":0.22},{"s":"n","x":935,"k":0.2},{"s":"n","x":937,"k":0.12},{"s":"n","x":939,"k":0.04},{"s":"n","x":941,"k":-0.04},{"s":"n","x":943,"k":-0.1},{"s":"n","x":945,"k":-0.12},{"s":"n","x":947,"k":-0.08},{"s":"n","x":949,"k":0.02},{"s":"n","x":951,"k":0.12},{"s":"n","x":953,"k":0.22},{"s":"n","x":955,"k":0.3},{"s":"n","x":957,"k":0.36},{"s":"n","x":959,"k":0.4},{"s":"n","x":961,"k":0.44},{"s":"n","x":963,"k":0.46},{"s":"n","x":965,"k":0.48},{"s":"n","x":967,"k":0.46},{"s":"n","x":969,"k":0.42},{"s":"n","x":971,"k":0.3},{"s":"n","x":973,"k":0.16},{"s":"n","x":975,"k":0.0},{"s":"n","x":977,"k":-0.16},{"s":"n","x":979,"k":-0.32},{"s":"n","x":981,"k":-0.48},{"s":"n","x":983,"k":-0.62},{"s":"n","x":985,"k":-0.72},{"s":"n","x":986,"k":-0.78},{"s":"n","x":987,"k":-0.8},{"s":"n","x":988,"k":-0.7},{"s":"n","x":989,"k":-0.5},{"s":"n","x":990,"k":-0.3},{"s":"n","x":991,"k":-0.1},{"s":"n","x":992,"k":0.1},{"s":"n","x":993,"k":0.28},{"s":"n","x":994,"k":0.45},{"s":"n","x":995,"k":0.6},{"s":"n","x":996,"k":0.74},{"s":"n","x":997,"k":0.86},{"s":"n","x":998,"k":0.96},{"s":"n","x":999,"k":1.04},{"s":"n","x":1000,"k":1.1}
    ],
    "zhh": [
      {"s":"z","x":21.5,"z":21.0},{"s":"z","x":22.5,"z":19.9},{"s":"z","x":26.4,"z":23.5},{"s":"z","x":22.5,"z":27.4},{"s":"z","x":29.4,"z":27.4},{"s":"z","x":22.5,"z":28.9},{"s":"z","x":22.5,"z":30.5},{"s":"z","x":29.4,"z":30.5},{"s":"z","x":29.4,"z":32.3},{"s":"z","x":34.2,"z":32.6},{"s":"z","x":26.4,"z":39.6},{"s":"z","x":26.4,"z":42.0},{"s":"z","x":29.4,"z":44.4},{"s":"z","x":26.4,"z":47.6},{"s":"z","x":29.4,"z":48.6},{"s":"z","x":31.3,"z":49.6},{"s":"z","x":27.4,"z":51.6},{"s":"z","x":29.4,"z":52.9},{"s":"z","x":24.5,"z":54.8},{"s":"z","x":22.5,"z":56.3},{"s":"z","x":34.2,"z":55.2},{"s":"z","x":37.2,"z":56.5},{"s":"z","x":39.1,"z":54.2},{"s":"z","x":39.1,"z":51.6},{"s":"z","x":37.2,"z":50.3},{"s":"z","x":31.3,"z":46.3},{"s":"z","x":34.2,"z":45.0},{"s":"z","x":24.5,"z":42.4},{"s":"z","x":31.3,"z":40.8},
      {"s":"z","x":47,"z":58.4},{"s":"z","x":51,"z":57.8},{"s":"z","x":56.8,"z":57.1},{"s":"z","x":61.6,"z":58.1},{"s":"z","x":64.6,"z":56.5},{"s":"z","x":58.7,"z":55.5},{"s":"z","x":70.5,"z":55.8},{"s":"z","x":76.3,"z":54.8},{"s":"z","x":83.2,"z":56.1},{"s":"z","x":66.5,"z":54.2},{"s":"z","x":73.4,"z":53.2},{"s":"z","x":83.2,"z":53.5},{"s":"z","x":90,"z":53.9},{"s":"z","x":54.8,"z":52.9},{"s":"z","x":62.6,"z":51.6},{"s":"z","x":70.5,"z":51.9},{"s":"z","x":78.3,"z":50.9},{"s":"z","x":86.1,"z":51.6},{"s":"z","x":93,"z":52.2},{"s":"z","x":99.8,"z":52.5},{"s":"z","x":51,"z":50.3},{"s":"z","x":58.7,"z":49.6},{"s":"z","x":66.5,"z":49.0},{"s":"z","x":74.4,"z":49.3},{"s":"z","x":81.2,"z":48.3},{"s":"z","x":88.1,"z":48.6},{"s":"z","x":95.9,"z":49.6},{"s":"z","x":102.7,"z":50.3},{"s":"z","x":109.6,"z":51.2},{"s":"z","x":114.5,"z":56.8},{"s":"z","x":64.6,"z":47.3},{"s":"z","x":72.4,"z":46.3},{"s":"z","x":78.3,"z":45.4},{"s":"z","x":86.1,"z":46.0},{"s":"z","x":93,"z":46.7},{"s":"z","x":99.8,"z":45.4},{"s":"z","x":105.7,"z":47.3},{"s":"z","x":109.6,"z":46.0},{"s":"z","x":115.5,"z":44.4},{"s":"z","x":93.9,"z":44.2},{"s":"z","x":102.7,"z":43.4},{"s":"z","x":107.6,"z":42.4},{"s":"z","x":113.5,"z":41.8},{"s":"z","x":119.4,"z":43.1},{"s":"z","x":83.2,"z":43.4},{"s":"z","x":68.5,"z":44.4},
      {"s":"z","x":127.2,"z":42.1},{"s":"z","x":133.1,"z":41.1},{"s":"z","x":138.9,"z":40.1},{"s":"z","x":129.2,"z":39.2},{"s":"z","x":135,"z":38.4},{"s":"z","x":140.9,"z":37.5},{"s":"z","x":132.1,"z":36.5},{"s":"z","x":141.9,"z":35.9},{"s":"z","x":135,"z":34.9},{"s":"z","x":142.9,"z":53.4},{"s":"z","x":148.7,"z":53.7},{"s":"z","x":153.6,"z":52.7},{"s":"z","x":138.9,"z":35.6},
      {"s":"z","x":159.5,"z":58.3},{"s":"z","x":176.1,"z":59.9},{"s":"z","x":166.3,"z":57.3},{"s":"z","x":172.2,"z":56.7},{"s":"z","x":181,"z":56.3},{"s":"z","x":187.9,"z":55.6},{"s":"z","x":195.7,"z":55.2},{"s":"z","x":202.5,"z":54.5},{"s":"z","x":190.8,"z":54.1},{"s":"z","x":178.1,"z":54.3},{"s":"z","x":166.3,"z":53.2},{"s":"z","x":162.4,"z":51.6},{"s":"z","x":159.5,"z":49.9},{"s":"z","x":168.3,"z":48.6},{"s":"z","x":174.2,"z":50.9},{"s":"z","x":183,"z":52.5},{"s":"z","x":193.7,"z":52.9},{"s":"z","x":200.6,"z":51.7},{"s":"z","x":187.9,"z":50.3},{"s":"z","x":195.7,"z":49.3},{"s":"z","x":180,"z":48.3},{"s":"z","x":174.2,"z":46.7},{"s":"z","x":190.8,"z":47.3},{"s":"z","x":200.6,"z":46.3},{"s":"z","x":208.4,"z":53.5},{"s":"z","x":205.5,"z":55.8},{"s":"z","x":213.3,"z":51.6},{"s":"z","x":210.4,"z":49.9},{"s":"z","x":216.2,"z":48.6},{"s":"z","x":205.5,"z":45.4},{"s":"z","x":211.4,"z":44.1},{"s":"z","x":187.9,"z":45.0},{"s":"z","x":179,"z":44.1},
      {"s":"z","x":220.2,"z":45.4},{"s":"z","x":225,"z":44.5},{"s":"z","x":230.9,"z":45.0},{"s":"z","x":236.8,"z":44.2},{"s":"z","x":240.7,"z":43.6},{"s":"z","x":225,"z":43.2},{"s":"z","x":231.9,"z":42.4},{"s":"z","x":237.8,"z":41.9},{"s":"z","x":242.7,"z":41.4},{"s":"z","x":227,"z":41.0},{"s":"z","x":234.8,"z":40.3},{"s":"z","x":240.7,"z":39.6},{"s":"z","x":245.6,"z":39.0},{"s":"z","x":220.2,"z":41.8},{"s":"z","x":215.3,"z":46.7},
      {"s":"z","x":254.4,"z":31.3},{"s":"z","x":260.3,"z":30.5},{"s":"z","x":252.4,"z":29.7},{"s":"z","x":258.3,"z":29.0},{"s":"z","x":250.5,"z":28.2},{"s":"z","x":255.4,"z":27.3},{"s":"z","x":253.4,"z":25.8},{"s":"z","x":256.4,"z":24.8},{"s":"z","x":251.5,"z":23.8},{"s":"z","x":249.5,"z":22.8},{"s":"z","x":262.2,"z":29.7},{"s":"z","x":246.6,"z":32.6},
      {"s":"z","x":313.1,"z":40.3},{"s":"z","x":317,"z":39.5},{"s":"z","x":320,"z":38.7},{"s":"z","x":327.8,"z":44.2},{"s":"z","x":329.7,"z":43.6},{"s":"z","x":329.7,"z":40.9},{"s":"z","x":342.5,"z":42.9},{"s":"z","x":348.3,"z":42.2},{"s":"z","x":344.4,"z":39.5},{"s":"z","x":350.3,"z":38.5},{"s":"z","x":347.4,"z":37.5},{"s":"z","x":352.3,"z":36.5},{"s":"z","x":358.1,"z":35.7},{"s":"z","x":352.3,"z":34.6},{"s":"z","x":355.2,"z":33.7},{"s":"z","x":332.7,"z":32.8},{"s":"z","x":356.2,"z":32.8},{"s":"z","x":356.2,"z":31.5},{"s":"z","x":338.6,"z":37.8},
      {"s":"z","x":366.9,"z":48.3},{"s":"z","x":371.8,"z":47.3},{"s":"z","x":377.7,"z":48.0},{"s":"z","x":382.6,"z":46.7},{"s":"z","x":387.5,"z":47.5},{"s":"z","x":392.4,"z":46.3},{"s":"z","x":397.3,"z":45.7},{"s":"z","x":374.8,"z":43.5},{"s":"z","x":377.7,"z":42.4},{"s":"z","x":384.5,"z":41.8},{"s":"z","x":392.4,"z":41.6},{"s":"z","x":366.9,"z":40.5},{"s":"z","x":371.8,"z":39.5},{"s":"z","x":377.7,"z":38.7},{"s":"z","x":369.9,"z":37.8},{"s":"z","x":376.7,"z":37.1},{"s":"z","x":402.2,"z":45.2},{"s":"z","x":407,"z":44.6},{"s":"z","x":412,"z":44.2},{"s":"z","x":416.8,"z":43.9},{"s":"z","x":421.7,"z":44.9},{"s":"z","x":426.6,"z":43.6},{"s":"z","x":411,"z":42.5},{"s":"z","x":416.8,"z":42.0},{"s":"z","x":423.7,"z":41.6},{"s":"z","x":431.5,"z":42.4},{"s":"z","x":440.3,"z":42.0},{"s":"z","x":419.8,"z":40.7},{"s":"z","x":426.6,"z":40.3},{"s":"z","x":421.7,"z":39.2},{"s":"z","x":408,"z":37.0},{"s":"z","x":423.7,"z":35.2},{"s":"z","x":420.7,"z":34.6},{"s":"z","x":446.2,"z":45.7},{"s":"z","x":456,"z":45.0},{"s":"z","x":436.4,"z":45.6},{"s":"z","x":401.2,"z":42.4},{"s":"z","x":394.3,"z":40.8},{"s":"z","x":364,"z":41.4},
      {"s":"z","x":572.4,"z":29.2},{"s":"z","x":585.1,"z":29.5},{"s":"z","x":589,"z":28.7},{"s":"z","x":577.3,"z":28.7},{"s":"z","x":570.5,"z":25.4},{"s":"z","x":575.3,"z":25.0},{"s":"z","x":581.2,"z":25.2},{"s":"z","x":586.1,"z":25.4},{"s":"z","x":570.5,"z":24.4},{"s":"z","x":575.3,"z":23.8},{"s":"z","x":579.3,"z":23.5},{"s":"z","x":572.4,"z":22.8},{"s":"z","x":577.3,"z":22.4},{"s":"z","x":574.4,"z":21.5},{"s":"z","x":574.4,"z":19.1},{"s":"z","x":611.5,"z":23.1},{"s":"z","x":617.4,"z":22.8},{"s":"z","x":624.3,"z":23.1},{"s":"z","x":629.2,"z":22.8},{"s":"z","x":618.4,"z":20.2},{"s":"z","x":624.3,"z":20.4},{"s":"z","x":621.3,"z":19.7},{"s":"z","x":623.3,"z":16.3},{"s":"z","x":623.3,"z":15.3},{"s":"z","x":626.2,"z":27.6},{"s":"z","x":650.7,"z":28.9},{"s":"z","x":668.3,"z":27.1},{"s":"z","x":648.7,"z":26.1},{"s":"z","x":652.6,"z":25.1},{"s":"z","x":656.6,"z":25.8},{"s":"z","x":658.5,"z":24.4},{"s":"z","x":651.7,"z":23.8},{"s":"z","x":655.6,"z":23.1},{"s":"z","x":661.4,"z":23.5},{"s":"z","x":665.4,"z":22.5},{"s":"z","x":662.4,"z":21.5},{"s":"z","x":673.2,"z":23.5},{"s":"z","x":680,"z":23.0},
      {"s":"z","x":668.3,"z":24.1},{"s":"z","x":677.1,"z":22.7},{"s":"z","x":683,"z":22.0},{"s":"z","x":699.6,"z":30.7},{"s":"z","x":704.5,"z":29.9},{"s":"z","x":701.6,"z":28.5},{"s":"z","x":701.6,"z":25.0},{"s":"z","x":704.5,"z":23.5},{"s":"z","x":716.2,"z":21.2},{"s":"z","x":722.1,"z":20.5},{"s":"z","x":726,"z":19.5},{"s":"z","x":731.9,"z":18.9},{"s":"z","x":738.7,"z":18.4},{"s":"z","x":719.2,"z":16.7},{"s":"z","x":722.1,"z":15.9},{"s":"z","x":726,"z":17.6},{"s":"z","x":730,"z":15.6},{"s":"z","x":724.1,"z":26.9},{"s":"z","x":729,"z":26.4},{"s":"z","x":733.9,"z":25.8},{"s":"z","x":739.7,"z":26.1},{"s":"z","x":744.6,"z":25.4},{"s":"z","x":730.9,"z":31.3},{"s":"z","x":735.8,"z":30.7},{"s":"z","x":739.7,"z":29.9},{"s":"z","x":744.6,"z":29.3},{"s":"z","x":749.5,"z":28.7},{"s":"z","x":742.7,"z":28.3},{"s":"z","x":754.4,"z":28.0},{"s":"z","x":749.5,"z":30.7},{"s":"z","x":754.4,"z":29.9},{"s":"z","x":759.3,"z":29.3},{"s":"z","x":764.2,"z":32.2},{"s":"z","x":769.1,"z":31.6},{"s":"z","x":774,"z":30.7},{"s":"z","x":778.9,"z":31.2},{"s":"z","x":783.8,"z":30.0},{"s":"z","x":788.6,"z":30.7},{"s":"z","x":793.5,"z":29.3},{"s":"z","x":798.4,"z":28.7},{"s":"z","x":803.3,"z":29.9},{"s":"z","x":783.8,"z":28.0},{"s":"z","x":788.6,"z":27.6},{"s":"z","x":759.3,"z":27.4},{"s":"z","x":769.1,"z":33.2},{"s":"z","x":775,"z":32.2},{"s":"z","x":758.3,"z":33.3},
      {"s":"z","x":822,"z":36.3},{"s":"z","x":826.8,"z":35.5},{"s":"z","x":835.6,"z":40.5},{"s":"z","x":839.5,"z":39.2},{"s":"z","x":842.5,"z":38.2},{"s":"z","x":837.6,"z":37.2},{"s":"z","x":847.4,"z":36.5},{"s":"z","x":833.7,"z":38.8},{"s":"z","x":845.4,"z":39.8},{"s":"z","x":849.3,"z":32.6},{"s":"z","x":853.2,"z":31.6},{"s":"z","x":856.2,"z":30.7},{"s":"z","x":859.1,"z":30.0},{"s":"z","x":854.2,"z":31.3},{"s":"z","x":861,"z":30.7},{"s":"z","x":865.9,"z":29.9},{"s":"z","x":870.8,"z":29.3},{"s":"z","x":875.7,"z":28.7},{"s":"z","x":880.6,"z":29.0},{"s":"z","x":885.5,"z":28.0},{"s":"z","x":862,"z":28.7},{"s":"z","x":870.8,"z":27.4},{"s":"z","x":865.9,"z":26.1},{"s":"z","x":872.8,"z":25.4},{"s":"z","x":878.7,"z":25.8},{"s":"z","x":885.5,"z":24.8},{"s":"z","x":890.4,"z":24.1},{"s":"z","x":897.3,"z":23.8},{"s":"z","x":870.8,"z":24.4},{"s":"z","x":875.7,"z":22.8},{"s":"z","x":880.6,"z":22.2},{"s":"z","x":885.5,"z":21.8},{"s":"z","x":890.4,"z":21.2},{"s":"z","x":895.3,"z":20.5},{"s":"z","x":900.2,"z":20.2},{"s":"z","x":888.5,"z":19.5},{"s":"z","x":895.3,"z":18.9},{"s":"z","x":900.2,"z":18.2},{"s":"z","x":905.1,"z":19.2},{"s":"z","x":910,"z":19.9},{"s":"z","x":914.9,"z":20.8},{"s":"z","x":905.1,"z":22.2},{"s":"z","x":910,"z":22.8},{"s":"z","x":919.8,"z":21.5},{"s":"z","x":893.3,"z":17.8},{"s":"z","x":900.2,"z":17.3},
      {"s":"z","x":910,"z":29.0},{"s":"z","x":914.9,"z":28.0},{"s":"z","x":919.8,"z":27.4},{"s":"z","x":924.7,"z":26.7},{"s":"z","x":929.5,"z":26.1},{"s":"z","x":934.4,"z":27.1},{"s":"z","x":939.3,"z":28.0},{"s":"z","x":944.2,"z":28.7},{"s":"z","x":949.1,"z":29.3},{"s":"z","x":954,"z":30.0},{"s":"z","x":958.9,"z":30.7},{"s":"z","x":934.4,"z":31.3},{"s":"z","x":939.3,"z":32.3},{"s":"z","x":944.2,"z":31.6},{"s":"z","x":949.1,"z":32.6},{"s":"z","x":958.9,"z":32.3},{"s":"z","x":963.8,"z":31.6},{"s":"z","x":968.7,"z":31.0},{"s":"z","x":973.6,"z":32.3},{"s":"z","x":978.5,"z":31.3},{"s":"z","x":919.8,"z":25.8},{"s":"z","x":924.7,"z":24.8},{"s":"z","x":949.1,"z":39.2},{"s":"z","x":956.9,"z":38.5},{"s":"z","x":951.9,"z":36.7},{"s":"z","x":949.1,"z":35.6},{"s":"z","x":955.9,"z":34.6},{"s":"z","x":961.8,"z":33.7},{"s":"z","x":986.3,"z":31.0},{"s":"z","x":975.5,"z":29.3},{"s":"z","x":975.5,"z":28.0},{"s":"z","x":975.5,"z":26.9},{"s":"z","x":998,"z":29.7},{"s":"z","x":1001.5,"z":28.7},{"s":"z","x":998,"z":27.9},{"s":"z","x":1000,"z":23.1},{"s":"z","x":1001.5,"z":22.4},{"s":"z","x":988.3,"z":36.5},{"s":"z","x":991.2,"z":35.2},{"s":"z","x":993.2,"z":33.9},{"s":"z","x":983.4,"z":32.6}
    ],
    "box": [
      {"x": 7, "x2": 491, "z": 59.15, "z2": 36.21}
    ]
  },
  "encoding": {
    "x": {
      "field": "x", "type": "quantitative",
      "scale": {"domain": [0, 1000], "nice": false, "zero": false},
      "axis": {
        "orient": "bottom", "offset": -382.5,
        "values": [0, 200, 400, 600, 800, 1000],
        "ticks": false, "grid": false,
        "domainColor": "#8c8c8c", "domainWidth": 1.2,
        "labelFontSize": 20, "labelColor": "#333333", "labelPadding": 21,
        "labelFlush": false, "labelOverlap": false,
        "title": "Ray_25 (201309140920 LST)",
        "titleFontSize": 19, "titleFontWeight": "bold", "titleColor": "#222222",
        "titleBaseline": "top", "titleY": 391, "titleX": 511
      }
    }
  },
  "layer": [
    {
      "encoding": {
        "y": {
          "field": "k", "type": "quantitative",
          "scale": {"domain": [-4, 4], "nice": false, "zero": false},
          "axis": {
            "values": [-4, -2, 0, 2, 4],
            "labelExpr": "'' + datum.value",
            "ticks": false, "domain": false, "grid": false,
            "labelFontSize": 20, "labelColor": "#333333", "labelPadding": 32,
            "title": "K_d p (dgree/km)",
            "titleFontSize": 19, "titleFontWeight": "bold", "titleColor": "#222222",
            "titleAngle": 270, "titleBaseline": "middle", "titleX": -88, "titleY": 382.5
          }
        },
        "color": {
          "field": "s", "type": "nominal",
          "scale": {"domain": ["o", "n", "z"], "range": ["#1a1a1a", "#1f6db5", "#8cc63e"]},
          "legend": {
            "orient": "none", "legendX": 799, "legendY": 40, "title": null, "padding": 0,
            "labelFontSize": 20, "labelColor": "#222222", "labelOffset": 8,
            "symbolSize": 85, "symbolStrokeWidth": 1.6, "rowPadding": 33,
            "labelExpr": "datum.label == 'o' ? 'K_d p_ORG' : datum.label == 'n' ? 'K_d p_NCAR' : 'Zhh'"
          }
        },
        "shape": {
          "field": "s", "type": "nominal",
          "scale": {"domain": ["o", "n", "z"], "range": ["circle", "circle", "triangle-up"]},
          "legend": {
            "orient": "none", "legendX": 799, "legendY": 40, "title": null, "padding": 0,
            "labelFontSize": 20, "labelColor": "#222222", "labelOffset": 8,
            "symbolSize": 85, "symbolStrokeWidth": 1.6, "rowPadding": 33,
            "labelExpr": "datum.label == 'o' ? 'K_d p_ORG' : datum.label == 'n' ? 'K_d p_NCAR' : 'Zhh'"
          }
        }
      },
      "layer": [
        {"data": {"name": "org"}, "mark": {"type": "point", "filled": false, "size": 120, "strokeWidth": 1.9}},
        {"data": {"name": "ncar"}, "mark": {"type": "point", "filled": false, "size": 120, "strokeWidth": 2.0}}
      ]
    },
    {
      "encoding": {
        "y": {
          "field": "z", "type": "quantitative",
          "scale": {"domain": [10, 60], "nice": false, "zero": false},
          "axis": {
            "orient": "right",
            "values": [10, 20, 30, 40, 50, 60],
            "ticks": true, "tickSize": 9, "tickColor": "#8c8c8c",
            "domain": true, "domainColor": "#8c8c8c", "grid": false,
            "labelFontSize": 20, "labelColor": "#333333", "labelPadding": 34,
            "title": "Zhh(dBZ)",
            "titleFontSize": 19, "titleFontWeight": "bold", "titleColor": "#222222",
            "titleAngle": 90, "titleBaseline": "middle", "titleX": 106, "titleY": 405
          }
        }
      },
      "layer": [
        {
          "data": {"name": "zhh"},
          "mark": {"type": "point", "filled": false, "size": 170, "strokeWidth": 1.3},
          "encoding": {
            "color": {"field": "s", "type": "nominal", "scale": {"domain": ["o", "n", "z"], "range": ["#1a1a1a", "#1f6db5", "#8cc63e"]}},
            "shape": {"field": "s", "type": "nominal", "scale": {"domain": ["o", "n", "z"], "range": ["circle", "circle", "triangle-up"]}}
          }
        },
        {
          "data": {"name": "box"},
          "mark": {"type": "rect", "filled": false, "fill": null, "stroke": "#7030a0", "strokeWidth": 2.8, "strokeDash": [9, 5]},
          "encoding": {
            "x2": {"field": "x2"},
            "y2": {"field": "z2"}
          }
        }
      ]
    }
  ],
  "resolve": {"scale": {"y": "independent"}, "axis": {"y": "independent"}}
}
